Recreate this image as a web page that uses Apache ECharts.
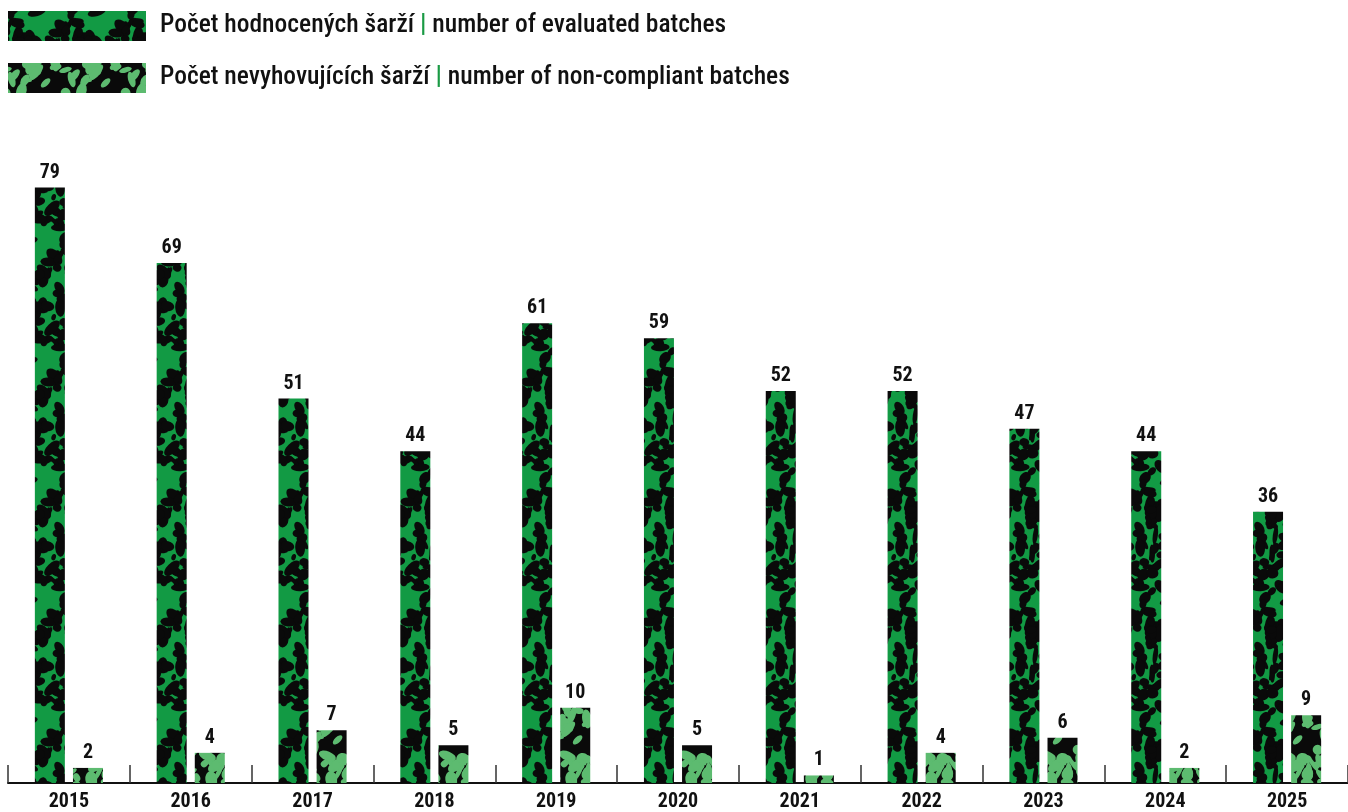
<!DOCTYPE html>
<html>
<head>
<meta charset="utf-8">
<script src="https://cdn.jsdelivr.net/npm/echarts@6/dist/echarts.min.js"></script>
<style>
html,body{margin:0;padding:0;background:#fff;}
#chart{width:1348px;height:812px;}
</style>
</head>
<body>
<div id="chart"></div>
<script>
const categories = ['2015','2016','2017','2018','2019','2020','2021','2022','2023','2024','2025'];
const evaluated = [79, 69, 51, 44, 61, 59, 52, 52, 47, 44, 36];
const nonCompliant = [2, 4, 7, 5, 10, 5, 1, 4, 6, 2, 9];
const seriesNames = ['Počet hodnocených šarží | number of evaluated batches', 'Počet nevyhovujících šarží | number of non-compliant batches'];

const FONT = '"Roboto Condensed", "Liberation Sans Narrow", sans-serif';

function hash(n) { const s = Math.sin(n * 12.9898 + 78.233) * 43758.5453; return s - Math.floor(s); }
function makePattern(bg, fg, w, h, count, seed) {
  const c = document.createElement('canvas');
  c.width = w; c.height = h;
  const ctx = c.getContext('2d');
  ctx.fillStyle = bg; ctx.fillRect(0, 0, w, h);
  ctx.fillStyle = fg;
  for (let i = 0; i < count; i++) {
    const x = hash(seed + i * 3.1) * w;
    const y = hash(seed + i * 7.7 + 1) * h;
    const rx = 3 + hash(seed + i * 5.3 + 2) * 7;
    const ry = 2 + hash(seed + i * 2.9 + 3) * 4;
    const rot = hash(seed + i * 1.7 + 4) * Math.PI;
    for (const dx of [-w, 0, w]) for (const dy of [-h, 0, h]) {
      ctx.beginPath();
      ctx.ellipse(x + dx, y + dy, rx, ry, rot, 0, Math.PI * 2);
      ctx.fill();
    }
  }
  return c;
}
const greenPat = makePattern('#129a44', '#0a0a0a', 60, 120, 80, 11);
const darkPat = makePattern('#0a0a0a', '#5dbb70', 60, 120, 75, 37);

const chart = echarts.init(document.getElementById('chart'));
const labelStyle = {
  show: true, position: 'top', distance: 5,
  fontFamily: FONT, fontSize: 20, fontWeight: 'bold', color: '#111'
};
chart.setOption({
  animation: false,
  legend: {
    orient: 'vertical', left: 8, top: 11, itemGap: 22, padding: 0,
    itemWidth: 138, itemHeight: 30, icon: 'rect',
    data: seriesNames,
    formatter: function (name) {
      const parts = name.split(' | ');
      return '{t|' + parts[0] + ' }{g||}{t| ' + parts[1] + '}';
    },
    textStyle: {
      fontFamily: FONT, fontSize: 25.5, color: '#111', padding: [0, 0, 0, 9],
      rich: {
        t: { fontFamily: FONT, fontSize: 25.5, fontWeight: 500, color: '#111' },
        g: { fontFamily: FONT, fontSize: 25.5, color: '#1a9a44', fontWeight: 'bold' }
      }
    }
  },
  grid: { left: 8, width: 1345, top: 180, bottom: 26, containLabel: false },
  xAxis: {
    type: 'category', data: categories,
    axisLine: { show: true, lineStyle: { color: '#111', width: 2 } },
    axisTick: { show: true, inside: true, length: 18, interval: 0, lineStyle: { color: '#333', width: 1.5 } },
    axisLabel: { margin: 9, fontFamily: FONT, fontSize: 20, fontWeight: 'bold', color: '#111' }
  },
  yAxis: { type: 'value', min: 0, max: 80, show: false, splitLine: { show: false } },
  series: [
    {
      name: seriesNames[0], type: 'bar', data: evaluated,
      barWidth: 30, barGap: '27%',
      itemStyle: { color: { image: greenPat, repeat: 'repeat' } },
      label: labelStyle
    },
    {
      name: seriesNames[1], type: 'bar', data: nonCompliant,
      barWidth: 30,
      itemStyle: { color: { image: darkPat, repeat: 'repeat' } },
      label: labelStyle
    }
  ]
});
</script>
</body>
</html>
